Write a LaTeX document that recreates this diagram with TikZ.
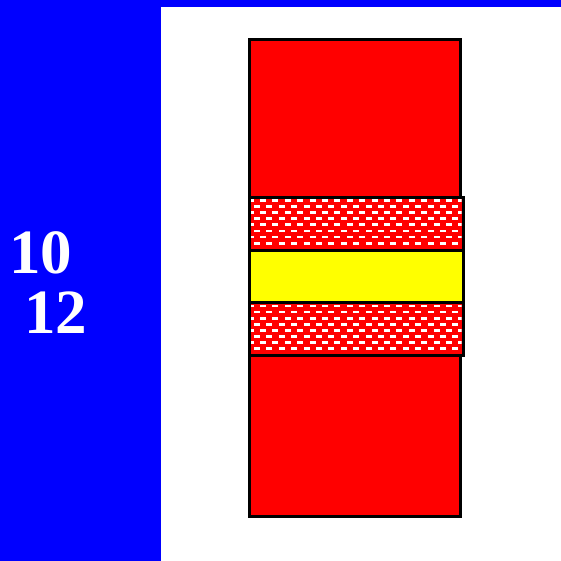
\documentclass[tikz,border=0pt]{standalone}
\usepackage{fontspec}
\setmainfont{Liberation Serif}
\definecolor{cblue}{RGB}{0,0,255}
\definecolor{cred}{RGB}{255,0,0}
\definecolor{cyellow}{RGB}{255,255,0}
\tikzset{
  box/.style={draw=black,line width=3pt},
  numlabel/.style={text=white,font=\fontsize{63}{63}\selectfont\bfseries,inner sep=0pt,anchor=base west}
}
\begin{document}
\begin{tikzpicture}[x=1pt,y=-1pt]
\useasboundingbox (0,0) rectangle (561,561);
\fill[cblue] (0,0) rectangle (561,561);
\fill[white] (161,7) rectangle (561,561);
% red blocks
\draw[box,fill=cred] (249.5,39.5) rectangle (460.5,197.5);
\draw[box,fill=cred] (249.5,355) rectangle (460.5,516.5);
% yellow
\draw[box,fill=cyellow] (249.5,250) rectangle (463.5,302);
% patterned bands
\foreach \ytop/\ybot/\ystart in {197.5/250/199, 302/355/304.5}{
  \fill[cred] (249.5,\ytop) rectangle (463.5,\ybot);
  \begin{scope}
    \clip (251,\ytop) rectangle (461.5,\ybot);
    \foreach \r in {0,...,7}{
      \pgfmathsetmacro{\yy}{\ystart+6.1*\r}
      \pgfmathsetmacro{\off}{mod(\r,2)==0 ? 260 : 254}
      \foreach \k in {-1,...,17}{
        \fill[white] ({\off+12.4*\k},\yy) rectangle ({\off+12.4*\k+6},\yy+2.8);
      }
    }
  \end{scope}
  \draw[box] (249.5,\ytop) rectangle (463.5,\ybot);
}
\node[numlabel] (a) at (9,273.5) {10};
\node[numlabel] (b) at (24,333.5) {12};
\end{tikzpicture}
\end{document}
